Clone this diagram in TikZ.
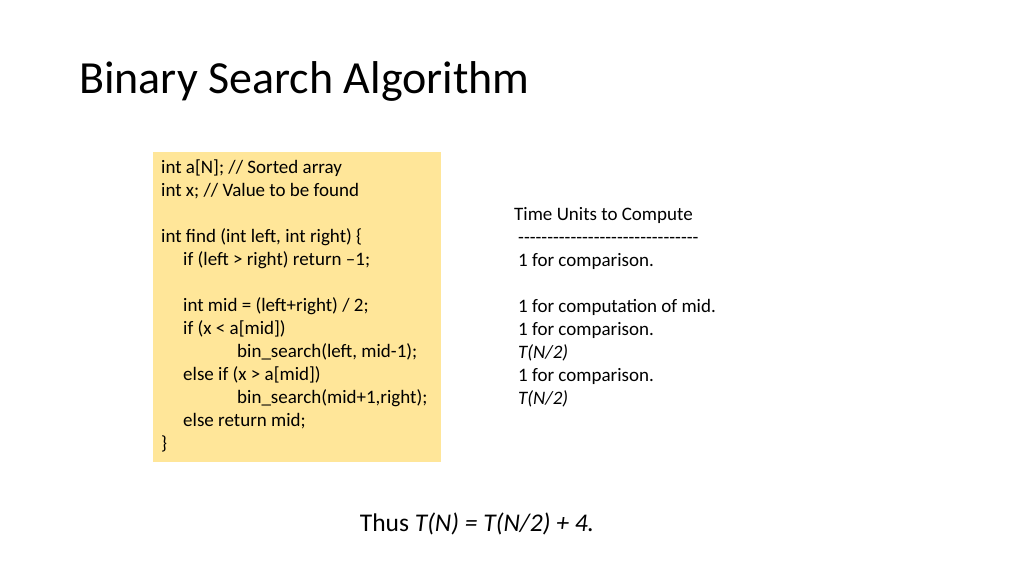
\documentclass[tikz,border=0pt]{standalone}
\usepackage{fontspec}
\setmainfont{Carlito}
\newfontfamily\plainfont[Ligatures=TeXOff]{Carlito}
\begin{document}
\begin{tikzpicture}[x=1pt,y=-1pt,
  code/.style={anchor=mid west,inner sep=0pt,font=\fontsize{19}{21}\selectfont},
  note/.style={anchor=mid west,inner sep=0pt,font=\fontsize{19}{21}\selectfont}]
\useasboundingbox (0,0) rectangle (1024,576);
\fill[fill={rgb,255:red,255;green,230;blue,153}] (153,152) rectangle (441,462);
\node[anchor=mid west,inner sep=0pt,font=\fontsize{46}{50}\selectfont] (title) at (79,91) {Binary Search Algorithm};
\node[code] (c1) at (161,171) {int a[N]; // Sorted array};
\node[code] (c2) at (161,194) {int x; // Value to be found};
\node[code] (c3) at (161,240) {int find (int left, int right) \{};
\node[code] (c4) at (183,263) {if (left > right) return –1;};
\node[code] (c5) at (183,309) {int mid = (left+right) / 2;};
\node[code] (c6) at (183,332) {if (x < a[mid])};
\node[code] (c7) at (237,355) {bin\_search(left, mid-1);};
\node[code] (c8) at (183,378) {else if (x > a[mid])};
\node[code] (c9) at (237,401) {bin\_search(mid+1,right);};
\node[code] (c10) at (183,424) {else return mid;};
\node[code] (c11) at (161,447) {\}};
\node[note] (n0) at (514,218) {Time Units to Compute};
\node[note] (n1) at (518,241) {\plainfont -------------------------------};
\node[note] (n2) at (518,264) {1 for comparison.};
\node[note] (n3) at (518,310) {1 for computation of mid.};
\node[note] (n4) at (518,333) {1 for comparison.};
\node[note] (n5) at (518,356) {\textit{T(N/2)}};
\node[note] (n6) at (518,379) {1 for comparison.};
\node[note] (n7) at (518,402) {\textit{T(N/2)}};
\node[anchor=mid,inner sep=0pt,font=\fontsize{25.5}{28}\selectfont] (thus) at (477,529) {Thus \textit{T(N) = T(N/2) + 4.}};
\end{tikzpicture}
\end{document}
